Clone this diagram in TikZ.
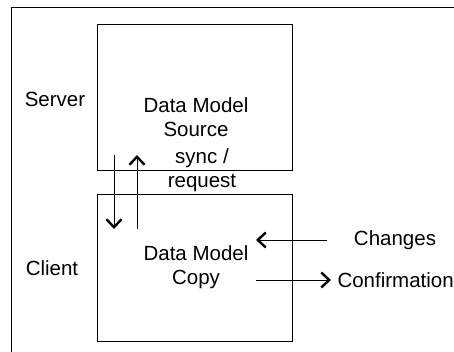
\documentclass[tikz,border=0pt]{standalone}
\usepackage{fontspec}
\setmainfont{Liberation Sans}
\usetikzlibrary{arrows.meta}

\begin{document}
\begin{tikzpicture}[x=1pt,y=-1pt,line width=1pt,
    arr/.style={-{Straight Barb[length=8pt,width=15pt,line width=2.4pt]}},
    box/.style={draw,minimum width=195pt,minimum height=146pt,inner sep=0pt},
    lbl/.style={font=\fontsize{20.5}{24.5}\selectfont,align=center,inner sep=2pt}]
    \useasboundingbox (0,0) rectangle (454,352);
    \draw (11,352) -- (11,8) -- (454,8);
    \node[box] (source) at (195,97.5) {};
    \node[box] (copy) at (195,268) {};
    \node[lbl] (server) at (55,99) {Server};
    \node[lbl] (client) at (52,268) {Client};
    \node[lbl] (sourcetxt) at (196,117) {Data Model\\Source};
    \node[lbl] (synctxt) at (202,170) {sync /\\request};
    \node[lbl] (copytxt) at (196,267) {Data Model\\Copy};
    \node[lbl] (changes) at (395,240) {Changes};
    \node[lbl,anchor=west,inner xsep=6pt] (confirm) at (331,280) {Confirmation};
    \coordinate (synctop) at (114,155);
    \coordinate (syncbot) at (114,229);
    \coordinate (reqbot) at (137,229);
    \coordinate (reqtop) at (137,155);
    \coordinate (chgend) at (256,240);
    \coordinate (confstart) at (256,280);
    \draw [arr] (synctop) -- (syncbot);
    \draw [arr] (reqbot) -- (reqtop);
    \draw [arr] ([xshift=-24pt]changes.west) -- (chgend);
    \draw [arr] (confstart) -- (confirm.west);
\end{tikzpicture}
\end{document}
